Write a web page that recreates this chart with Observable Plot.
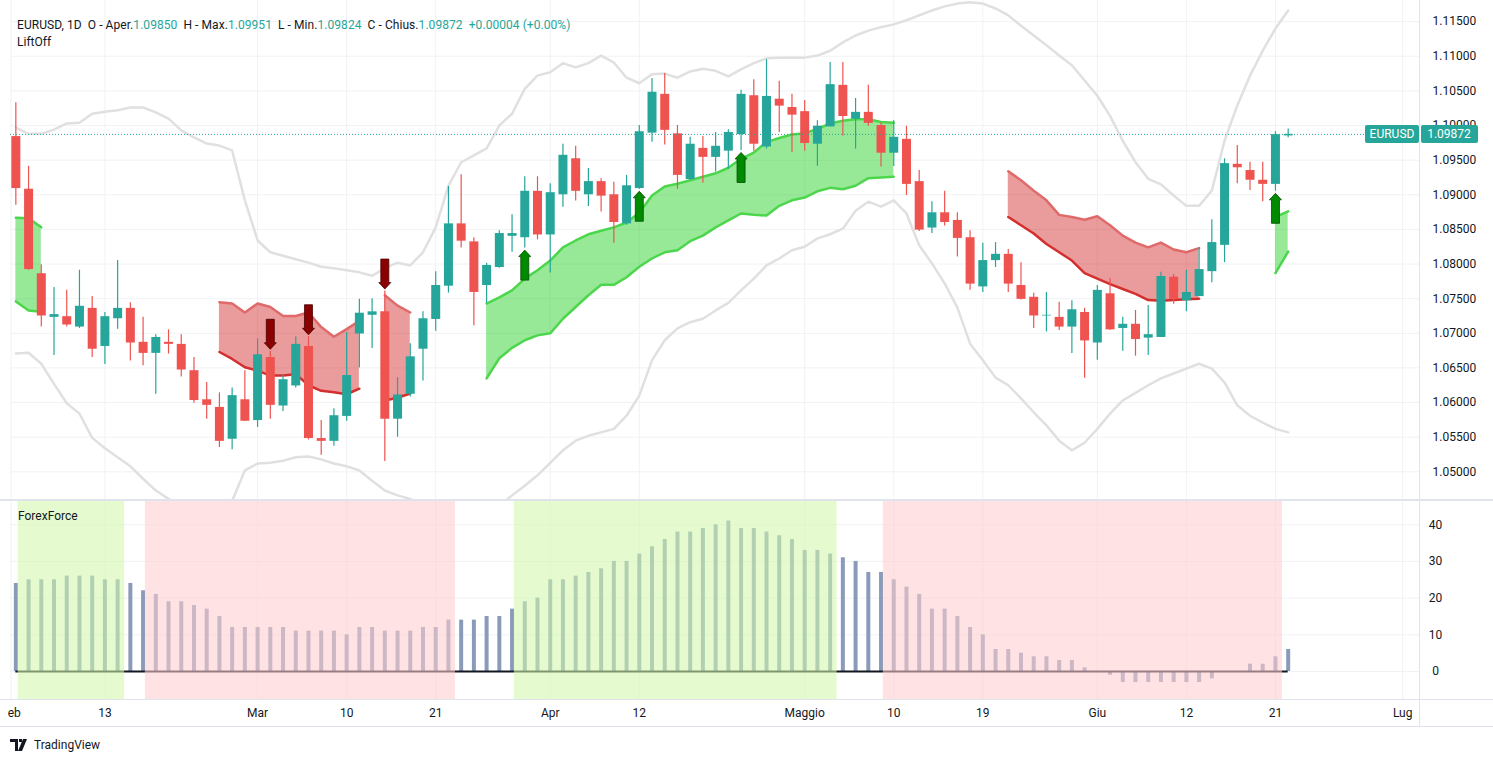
<!DOCTYPE html>
<html><head><meta charset="utf-8">
<script src="https://cdn.jsdelivr.net/npm/d3@7"></script>
<script src="https://cdn.jsdelivr.net/npm/@observablehq/plot@0.6"></script>
<style>
body{margin:0;background:#fff;font-family:Roboto,"Liberation Sans",Arial,sans-serif;color:#131722;}
#wrap{position:relative;width:1493px;height:762px;overflow:hidden;background:#fff;}
#main,#lower{position:absolute;left:0;}
#main{top:0;} #lower{top:500px;}
.ln{position:absolute;background:#e0e3eb;}
.leg{position:absolute;font-size:12px;white-space:pre;color:#131722;}
#legend1{letter-spacing:0.06px;}
.val{color:#26a69a;}
#footer{position:absolute;left:10px;top:738px;font-size:12px;display:flex;align-items:center;gap:4px;}
</style></head><body>
<div id="wrap">
  <div id="main"></div>
  <div id="lower"></div>
  <div style="position:absolute;left:0;top:701px;width:8px;height:25px;background:#fff"></div>
  <div class="ln" style="left:1419px;top:0;width:1px;height:727px"></div>
  <div class="ln" style="left:0;top:499px;width:1493px;height:2px"></div>
  <div class="ln" style="left:0;top:699px;width:1493px;height:1px"></div>
  <div class="ln" style="left:0;top:726px;width:1493px;height:1px"></div>
  <div class="leg" id="legend1" style="left:17px;top:18px"></div>
  <div class="leg" style="left:17px;top:35px">LiftOff</div>
  <div class="leg" style="left:18px;top:509px">ForexForce</div>
  <div id="footer"><svg width="20" height="12" viewBox="0 0 20 12"><path d="M0 0h8v12H5V3H0z M9 0h3v3H9z M13 0h4l-5 12H8z" fill="#131722"/></svg><span>TradingView</span></div>
</div>
<script>
// ---- data (index 0 = 2 Feb 2023, trading days) ----
const opens  = [1.0984,1.0908,1.0786,1.0723,1.0724,1.0709,1.0736,1.0681,1.0721,1.0736,1.0687,1.0671,1.0687,1.0684,1.0646,1.0604,1.0593,1.0547,1.0604,1.0574,1.0665,1.0595,1.0624,1.0681,1.0548,1.0544,1.0580,1.0699,1.0726,1.0731,1.0576,1.0612,1.0677,1.0720,1.0768,1.0858,1.0832,1.0769,1.0795,1.0840,1.0838,1.0905,1.0842,1.0900,1.0952,1.0900,1.0919,1.0900,1.0858,1.0909,1.0989,1.1045,1.0988,1.0922,1.0967,1.0954,1.0963,1.0987,1.1043,1.0969,1.1038,1.1026,1.1020,1.0973,1.0998,1.1058,1.1009,1.1019,1.1000,1.0960,1.0980,1.0919,1.0852,1.0874,1.0863,1.0838,1.0767,1.0805,1.0814,1.0769,1.0752,1.0725,1.0723,1.0709,1.0730,1.0686,1.0757,1.0707,1.0713,1.0693,1.0694,1.0781,1.0747,1.0753,1.0789,1.0827,1.0944,1.0935,1.0921,1.0915,1.09850];
const highs  = [1.1033,1.0941,1.0799,1.0766,1.0762,1.0791,1.0753,1.0730,1.0805,1.0744,1.0723,1.0698,1.0705,1.0698,1.0665,1.0629,1.0614,1.0621,1.0646,1.0692,1.0674,1.0639,1.0695,1.0695,1.0574,1.0591,1.0701,1.0749,1.0750,1.0761,1.0636,1.0685,1.0731,1.0789,1.0912,1.0929,1.0838,1.0801,1.0848,1.0871,1.0926,1.0926,1.0916,1.0973,1.0970,1.0938,1.0923,1.0918,1.0928,1.1000,1.1068,1.1075,1.1000,1.0983,1.0984,1.0990,1.0994,1.1051,1.1066,1.1095,1.1064,1.1045,1.1036,1.1007,1.1091,1.1091,1.1039,1.1058,1.1004,1.1007,1.0999,1.0935,1.0890,1.0905,1.0874,1.0848,1.0830,1.0831,1.0821,1.0802,1.0758,1.0759,1.0745,1.0747,1.0736,1.0769,1.0779,1.0723,1.0733,1.0740,1.0788,1.0785,1.0791,1.0823,1.0864,1.0952,1.0971,1.0947,1.0947,1.0991,1.09951];
const lows   = [1.0885,1.0791,1.0709,1.0668,1.0709,1.0707,1.0665,1.0655,1.0706,1.0660,1.0653,1.0612,1.0670,1.0637,1.0599,1.0576,1.0535,1.0532,1.0573,1.0564,1.0576,1.0587,1.0621,1.0546,1.0524,1.0537,1.0573,1.0650,1.0678,1.0515,1.0550,1.0608,1.0631,1.0703,1.0758,1.0823,1.0711,1.0743,1.0794,1.0817,1.0823,1.0835,1.0787,1.0882,1.0891,1.0883,1.0875,1.0830,1.0856,1.0908,1.0976,1.0972,1.0908,1.0921,1.0917,1.0933,1.0937,1.0964,1.0963,1.0966,1.0990,1.0961,1.0963,1.0941,1.0998,1.0985,1.0966,1.0999,1.0940,1.0941,1.0899,1.0847,1.0844,1.0855,1.0810,1.0762,1.0759,1.0795,1.0759,1.0748,1.0707,1.0702,1.0704,1.0671,1.0635,1.0661,1.0704,1.0674,1.0667,1.0668,1.0694,1.0742,1.0731,1.0753,1.0773,1.0802,1.0916,1.0906,1.0890,1.0905,1.09824];
const closes = [1.0909,1.0792,1.0725,1.0727,1.0712,1.0739,1.0677,1.0724,1.0736,1.0686,1.0671,1.0694,1.0684,1.0647,1.0603,1.0596,1.0544,1.0610,1.0573,1.0669,1.0596,1.0633,1.0684,1.0548,1.0544,1.0581,1.0639,1.0729,1.0731,1.0576,1.0611,1.0666,1.0721,1.0769,1.0858,1.0833,1.0759,1.0798,1.0844,1.0844,1.0905,1.0842,1.0903,1.0957,1.0905,1.0919,1.0898,1.0860,1.0913,1.0991,1.1048,1.0993,1.0928,1.0973,1.0954,1.0970,1.0990,1.1045,1.0973,1.1042,1.1028,1.1015,1.0974,1.0999,1.1059,1.1013,1.1019,1.1003,1.0960,1.0983,1.0915,1.0849,1.0874,1.0860,1.0837,1.0771,1.0805,1.0814,1.0771,1.0749,1.0725,1.0726,1.0709,1.0734,1.0689,1.0762,1.0705,1.0713,1.0691,1.0698,1.0782,1.0749,1.0759,1.0792,1.0831,1.0945,1.0939,1.0921,1.0915,1.09868,1.09872];
const bbUpper = [1.0997,1.0988,1.0988,1.0994,1.1003,1.1004,1.1017,1.1020,1.1022,1.1026,1.1026,1.1019,1.1010,1.0993,1.0983,1.0974,1.0971,1.0964,1.0892,1.0834,1.0817,1.0812,1.0807,1.0802,1.0796,1.0794,1.0791,1.0788,1.0783,1.0794,1.0802,1.0798,1.0817,1.0853,1.0913,1.0947,1.0957,1.0967,1.1000,1.1017,1.1053,1.1072,1.1077,1.1090,1.1084,1.1090,1.1101,1.1091,1.1069,1.1061,1.1074,1.1075,1.1069,1.1078,1.1082,1.1079,1.1071,1.1081,1.1090,1.1097,1.1098,1.1098,1.1098,1.1101,1.1108,1.1120,1.1130,1.1137,1.1142,1.1146,1.1152,1.1159,1.1166,1.1172,1.1176,1.1178,1.1176,1.1169,1.1159,1.1144,1.1130,1.1116,1.1101,1.1087,1.1065,1.1043,1.1014,1.0978,1.0947,1.0923,1.0915,1.0899,1.0884,1.0884,1.0906,1.0978,1.1029,1.1072,1.1108,1.1140,1.1166];
const bbLower = [1.0671,1.0672,1.0656,1.0627,1.0599,1.0584,1.0549,1.0534,1.0521,1.0508,1.0490,1.0473,1.0461,1.0451,1.0444,1.0441,1.0447,1.0458,1.0502,1.0512,1.0513,1.0516,1.0521,1.0522,1.0518,1.0512,1.0508,1.0502,1.0487,1.0473,1.0466,1.0461,1.0451,1.0437,1.0422,1.0415,1.0415,1.0430,1.0451,1.0466,1.0480,1.0495,1.0513,1.0531,1.0545,1.0552,1.0557,1.0562,1.0581,1.0610,1.0661,1.0690,1.0707,1.0716,1.0721,1.0733,1.0744,1.0762,1.0779,1.0798,1.0808,1.0820,1.0825,1.0837,1.0843,1.0851,1.0877,1.0890,1.0883,1.0892,1.0873,1.0827,1.0801,1.0772,1.0737,1.0685,1.0661,1.0636,1.0625,1.0606,1.0586,1.0567,1.0545,1.0531,1.0542,1.0562,1.0584,1.0603,1.0614,1.0625,1.0635,1.0642,1.0649,1.0656,1.0649,1.0629,1.0596,1.0581,1.0571,1.0562,1.0557];
const forceValues = [24,25,25,25,26,26,26,25,25,24,22,21,19,19,18,17,15,12,12,12,12,12,11,11,11,11,10,12,12,11,11,11,12,12,14,14,14,15,15,17,19,20,25,25,26,27,28,30,30,32,34,36,38,38,39,40,41,39,39,38,37,36,33,33,32,31,30,27,27,25,23,21,17,17,15,12,10,6,6,5,4,4,3,3,1,0,-1,-3,-3,-3,-3,-3,-3,-3,-2,0,0,2,2,4,6];
const greenZones = [[1,8],[40,64]];
const redZones = [[11,34],[69,99]];
// LiftOff clouds (start index, upper edge, lower edge)
const green1Start = 0,  green1Top = [1.0867,1.0866,1.0853], green1Bottom = [1.0746,1.0733,1.0731];
const red1Start = 16,   red1Top = [1.0745,1.0743,1.0730,1.0743,1.0738,1.0725,1.0725,1.0730,1.0709,1.0695,1.0706,1.0718], red1Bottom = [1.0673,1.0663,1.0651,1.0646,1.0639,1.0639,1.0641,1.0625,1.0617,1.0615,1.0612,1.0620];
const red2Start = 29,   red2Top = [1.0755,1.0740,1.0730], red2Bottom = [1.0603,1.0607,1.0613];
const green2Start = 37, green2Top = [1.0743,1.0752,1.0762,1.0779,1.0791,1.0805,1.0824,1.0834,1.0843,1.0848,1.0853,1.0860,1.0874,1.0899,1.0912,1.0916,1.0921,1.0926,1.0931,1.0939,1.0952,1.0961,1.0976,1.0982,1.0987,1.0989,1.0995,1.1003,1.1007,1.1009,1.1009,1.1005,1.1004],
      green2Bottom = [1.0635,1.0664,1.0679,1.0690,1.0697,1.0700,1.0721,1.0738,1.0755,1.0770,1.0770,1.0781,1.0796,1.0808,1.0817,1.0820,1.0833,1.0841,1.0853,1.0863,1.0873,1.0871,1.0870,1.0884,1.0892,1.0896,1.0905,1.0910,1.0908,1.0913,1.0924,1.0925,1.0926];
const red3Start = 78,   red3Top = [1.0934,1.0921,1.0906,1.0892,1.0871,1.0868,1.0864,1.0869,1.0856,1.0841,1.0831,1.0824,1.0831,1.0821,1.0817,1.0823], red3Bottom = [1.0868,1.0856,1.0844,1.0829,1.0817,1.0805,1.0787,1.0779,1.0771,1.0764,1.0757,1.0748,1.0747,1.0748,1.0749,1.0750];
const green3Start = 99, green3Top = [1.0868,1.0876], green3Bottom = [1.0787,1.0818];
const upArrows = [40,49,57,99];
const downArrows = [20,23,29];
const priceTicks = [1.050,1.055,1.060,1.065,1.070,1.075,1.080,1.085,1.090,1.095,1.100,1.105,1.110,1.115];
const forceTicks = [0,10,20,30,40];
const timeLabels = ["Feb","13","Mar","10","21","Apr","12","Maggio","10","19","Giu","12","21","Lug"];
const timeIndex  = [-0.38,7,19,26,33,42,49,62,69,76,85,92,99,109];

// ---- build tables ----
const UP = "#26a69a", DOWN = "#ef5350";
const candles = opens.map((o,i)=>({i,o,h:highs[i],l:lows[i],c:closes[i],col: closes[i]>=o?UP:DOWN}));
const bands = bbUpper.map((u,i)=>({i,u,lo:bbLower[i]}));
function cloud(id,start,top,bot){return top.map((t,k)=>({id,i:start+k,top:t,bot:bot[k]}));}
const greenClouds = [...cloud("g1",green1Start,green1Top,green1Bottom),...cloud("g2",green2Start,green2Top,green2Bottom),...cloud("g3",green3Start,green3Top,green3Bottom)];
const redClouds = [...cloud("r1",red1Start,red1Top,red1Bottom),...cloud("r2",red2Start,red2Top,red2Bottom),...cloud("r3",red3Start,red3Top,red3Bottom)];
const ticks = timeLabels.map((t,k)=>({t,x:timeIndex[k]}));
const xDomain = [-0.42, 110.4];
const GRID = "#f0f2f5";

const upSym = {draw(c){c.moveTo(0,0);c.lineTo(6,6.5);c.lineTo(4,6.5);c.lineTo(4,30);c.lineTo(-4,30);c.lineTo(-4,6.5);c.lineTo(-6,6.5);c.closePath();}};
const downSym = {draw(c){c.moveTo(0,0);c.lineTo(6,-6.5);c.lineTo(4,-6.5);c.lineTo(4,-30);c.lineTo(-4,-30);c.lineTo(-4,-6.5);c.lineTo(-6,-6.5);c.closePath();}};
const last = candles[candles.length-1];

const main = Plot.plot({
  width:1493, height:500, marginLeft:10, marginRight:73, marginTop:0, marginBottom:0,
  x:{domain:xDomain, axis:null},
  y:{domain:[1.04586,1.11805], axis:null},
  color:{type:"identity"},
  style:{background:"transparent", fontFamily:"Roboto, sans-serif"},
  marks:[
    Plot.ruleY(priceTicks,{stroke:GRID}),
    Plot.ruleX(timeIndex,{stroke:GRID}),
    Plot.line(bands,{x:"i",y:"u",stroke:"#e0e0e0",strokeWidth:2.5}),
    Plot.line(bands,{x:"i",y:"lo",stroke:"#e0e0e0",strokeWidth:2.5}),
    Plot.areaY(greenClouds,{x:"i",y1:"bot",y2:"top",z:"id",fill:"#2fd12f",fillOpacity:0.5}),
    Plot.line(greenClouds,{x:"i",y:"top",z:"id",stroke:"#4cd64c",strokeWidth:2.5}),
    Plot.line(greenClouds,{x:"i",y:"bot",z:"id",stroke:"#4cd64c",strokeWidth:2.5}),
    Plot.areaY(redClouds,{x:"i",y1:"bot",y2:"top",z:"id",fill:"#d32f2f",fillOpacity:0.48}),
    Plot.line(redClouds,{x:"i",y:"top",z:"id",stroke:"#e06a6a",strokeWidth:2.5}),
    Plot.line(redClouds,{x:"i",y:"bot",z:"id",stroke:"#d32f2f",strokeWidth:2.5}),
    Plot.ruleX(candles,{x:"i",y1:"l",y2:"h",stroke:"col",strokeWidth:1.2}),
    Plot.ruleX(candles,{x:"i",y1:"o",y2:"c",stroke:"col",strokeWidth:9}),
    Plot.ruleY([last.c],{stroke:UP,strokeDasharray:"1 2",strokeWidth:1}),
    Plot.dot(upArrows,{x:d=>d,y:d=>lows[d],symbol:upSym,r:5,fill:"#008a00",stroke:"#004d00",strokeWidth:0.8,dy:2}),
    Plot.dot(downArrows,{x:d=>d,y:d=>highs[d],symbol:downSym,r:5,fill:"#8b0000",stroke:"#4a0000",strokeWidth:0.8,dy:-2}),
    Plot.text(priceTicks,{x:xDomain[1],y:d=>d,text:d=>d.toFixed(5),textAnchor:"start",dx:12,fontSize:12,fill:"#131722"})
  ]
});
document.getElementById("main").appendChild(main);

// last-price labels
const sy = main.scale("y"), sx = main.scale("x");
const yv = sy.apply(last.c), xr = sx.apply(xDomain[1]);
const svg = d3.select(main);
svg.append("rect").attr("x",xr-55).attr("y",yv-9).attr("width",54).attr("height",18).attr("rx",2).attr("fill",UP);
svg.append("text").attr("x",xr-28).attr("y",yv).attr("dy","0.35em").attr("text-anchor","middle").attr("fill","#fff").attr("font-size",12).text("EURUSD");
svg.append("rect").attr("x",xr+1).attr("y",yv-9).attr("width",57).attr("height",18).attr("rx",2).attr("fill",UP);
svg.append("text").attr("x",xr+29).attr("y",yv).attr("dy","0.35em").attr("text-anchor","middle").attr("fill","#fff").attr("font-size",12).text(last.c.toFixed(5));

// legend from the last bar
const prev = candles[candles.length-2].c, chg = last.c-prev;
document.getElementById("legend1").innerHTML =
 `EURUSD, 1D  O - Aper.<span class="val">${last.o.toFixed(5)}</span>  H - Max.<span class="val">${last.h.toFixed(5)}</span>  L - Min.<span class="val">${last.l.toFixed(5)}</span>  C - Chius.<span class="val">${last.c.toFixed(5)}</span>  <span class="val">${chg>=0?"+":""}${chg.toFixed(5)} (${chg>=0?"+":""}${(chg/prev*100).toFixed(2)}%)</span>`;

// lower panel
const NEUTRAL = "#8a9bba";
const force = forceValues.map((v,i)=>({i,v}));
const zones = [...greenZones.map(z=>({s:z[0],e:z[1],f:"rgba(210,248,170,0.57)"})),...redZones.map(z=>({s:z[0],e:z[1],f:"rgba(255,204,206,0.57)"}))];
const lower = Plot.plot({
  width:1493, height:226, marginLeft:10, marginRight:73, marginTop:0, marginBottom:26,
  x:{domain:xDomain, axis:null},
  y:{domain:[-7.9,46.6], axis:null},
  color:{type:"identity"},
  style:{background:"transparent", fontFamily:"Roboto, sans-serif"},
  marks:[
    Plot.ruleY(forceTicks,{stroke:GRID}),
    Plot.ruleX(timeIndex,{stroke:GRID}),
    Plot.ruleX(force,{x:"i",y1:0,y2:"v",stroke:NEUTRAL,strokeWidth:4}),
    Plot.ruleY([0],{x1:0,x2:forceValues.length-1,stroke:"#131722",strokeWidth:2}),
    Plot.rect(zones,{x1:d=>d.s-0.82,x2:d=>d.e+0.55,y1:-7.9,y2:46.6,fill:"f"}),
    Plot.text(forceTicks,{x:xDomain[1],y:d=>d,text:d=>String(d),textAnchor:"middle",dx:15,fontSize:12,fill:"#131722"}),
    Plot.text(ticks,{x:"x",text:"t",frameAnchor:"bottom",dy:16,fontSize:12,fill:"#131722"})
  ]
});
document.getElementById("lower").appendChild(lower);
</script>
</body></html>
